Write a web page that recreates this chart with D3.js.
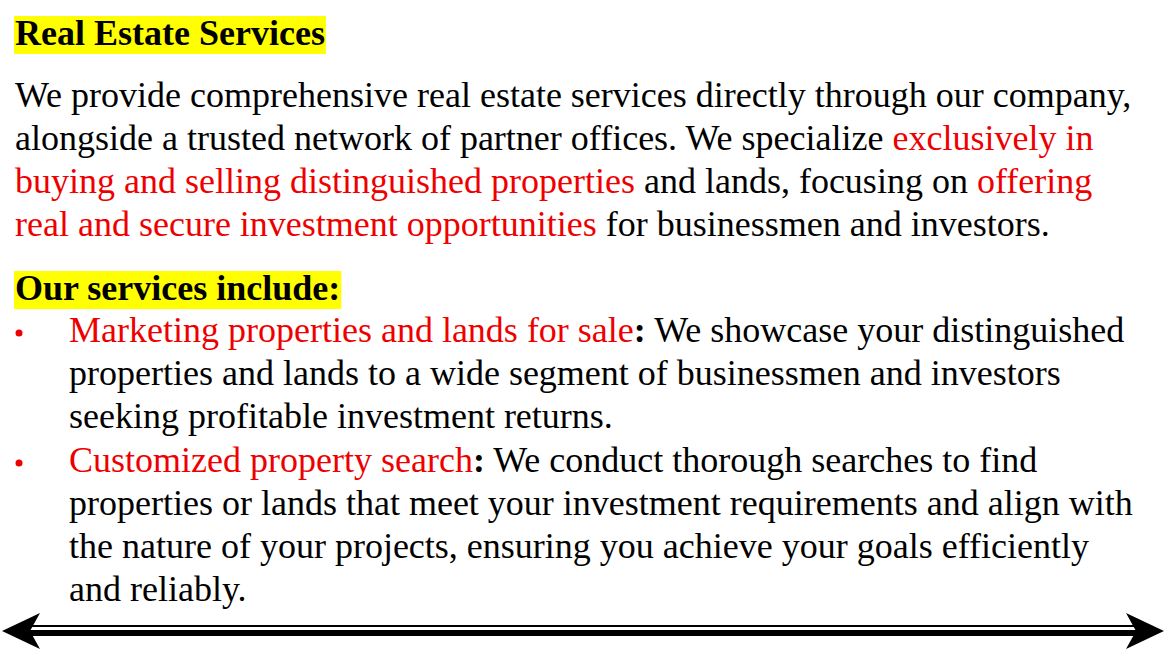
<!DOCTYPE html>
<html><head><meta charset="utf-8">
<script src="https://cdn.jsdelivr.net/npm/d3@7"></script>
<style>body{margin:0;background:#fff}</style></head>
<body><div id="chart"></div>
<script>
// headings
var headings = [
  {text: "Real Estate Services", y: 45},
  {text: "Our services include:", y: 300}
];
// paragraph lines: each line is list of [text, isRed, isBold]
var introLines = [
  [["We provide comprehensive real estate services directly through our company,", 0]],
  [["alongside a trusted network of partner offices. We specialize ", 0], ["exclusively in", 1]],
  [["buying and selling distinguished properties", 1], [" and lands, focusing on ", 0], ["offering", 1]],
  [["real and secure investment opportunities", 1], [" for businessmen and investors.", 0]]
];
var bullet1 = [
  [["Marketing properties and lands for sale", 1], [":", 0, 1], [" We showcase your distinguished", 0]],
  [["properties and lands to a wide segment of businessmen and investors", 0]],
  [["seeking profitable investment returns.", 0]]
];
var bullet2 = [
  [["Customized property search", 1], [":", 0, 1], [" We conduct thorough searches to find", 0]],
  [["properties or lands that meet your investment requirements and align with", 0]],
  [["the nature of your projects, ensuring you achieve your goals efficiently", 0]],
  [["and reliably.", 0]]
];

var width = 1168, height = 666, lh = 43;
var svg = d3.select("#chart").append("svg").attr("width", width).attr("height", height)
  .style("font-family", "'Liberation Serif', 'Times New Roman', serif");

headings.forEach(function(h) {
  var t = svg.append("text").attr("x", 15).attr("y", h.y)
    .style("font-size", "36px").style("font-weight", "bold").text(h.text);
  var bb = t.node().getBBox();
  svg.insert("rect", "text").attr("x", 14).attr("y", h.y - 29)
    .attr("width", bb.width + 2).attr("height", 38).attr("fill", "#ffff00");
});

function drawLines(lines, x, y0) {
  svg.selectAll(null).data(lines).enter().append("text")
    .attr("x", x).attr("y", function(d, i) { return y0 + i * lh; })
    .style("font-size", "36px")
    .style("white-space", "pre")
    .selectAll("tspan").data(function(d) { return d; }).enter().append("tspan")
    .attr("fill", function(s) { return s[1] ? "#ee0000" : "#000"; })
    .style("font-weight", function(s) { return s[2] ? "bold" : "normal"; })
    .text(function(s) { return s[0]; });
}
drawLines(introLines, 15, 107);
drawLines(bullet1, 69, 342);
drawLines(bullet2, 69, 472);

svg.selectAll(".dot").data([342, 472]).enter().append("circle")
  .attr("cx", 19).attr("cy", function(d) { return d - 9; }).attr("r", 3.5).attr("fill", "#ee0000");

// double arrow
var ay = 631;
svg.append("line").attr("x1", 20).attr("x2", 1148).attr("y1", ay - 5).attr("y2", ay - 5)
  .attr("stroke", "#000").attr("stroke-width", 2);
svg.append("line").attr("x1", 20).attr("x2", 1148).attr("y1", ay + 2).attr("y2", ay + 2)
  .attr("stroke", "#000").attr("stroke-width", 6);
var head = "M0,0 L38,-18 L28,0 L38,18 Z";
svg.append("path").attr("d", head).attr("transform", "translate(2," + ay + ")").attr("fill", "#000");
svg.append("path").attr("d", head).attr("transform", "translate(1164," + ay + ") scale(-1,1)").attr("fill", "#000");
</script></body></html>
